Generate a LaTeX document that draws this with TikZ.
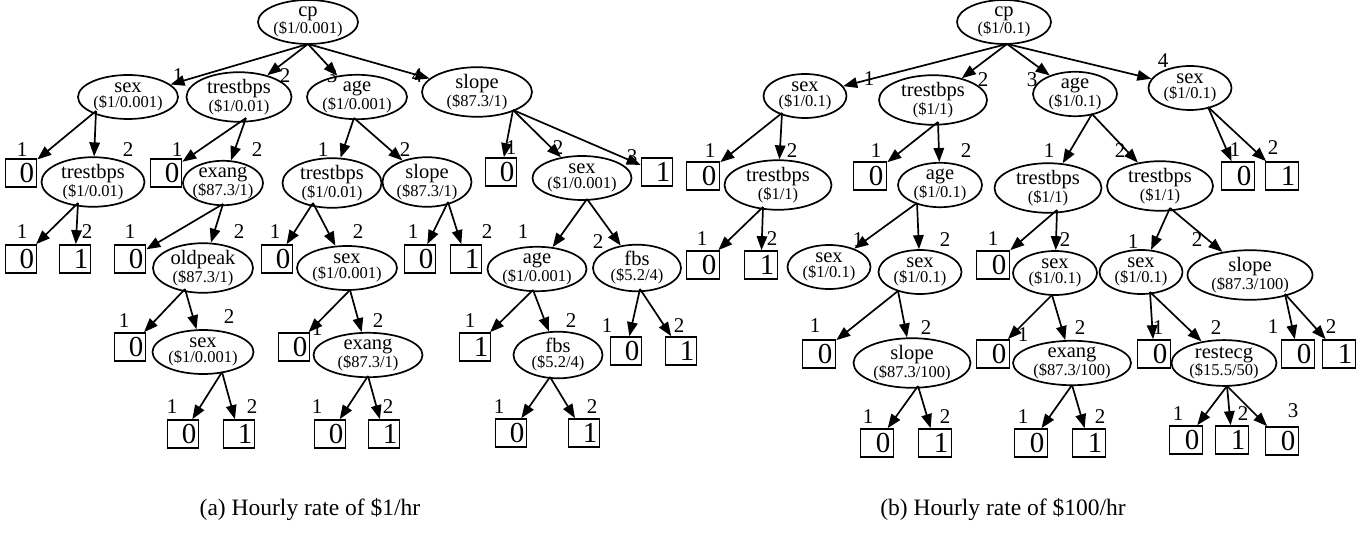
\documentclass[tikz,border=0pt]{standalone}
\usepackage{fontspec}
\setmainfont{Liberation Serif}
\usetikzlibrary{shapes.geometric,arrows.meta}
\newcommand\nmf{\fontsize{20.5}{15}\selectfont}
\newcommand\nsf{\fontsize{16.5}{15}\selectfont}
\newcommand\nt[2]{{\nmf #1}\\{\nsf #2}}
\newcommand\lf[1]{\hspace*{12pt}#1}
\newcommand\E[3]{\draw[conn] ([shift={(#2)}]#1.center) -- (#3);}
\tikzset{
 el/.style={draw, ellipse, line width=1.7pt, inner ysep=0pt, inner xsep=-5pt, minimum height=44pt, align=center, font=\nsf},
 leafbox/.style={draw, rectangle, line width=1.7pt, minimum width=31pt, minimum height=28pt, inner sep=0pt, font=\fontsize{29}{29}\selectfont},
 rleaf/.style={leafbox, minimum width=33pt},
 lbl/.style={font=\fontsize{21}{21}\selectfont, inner sep=0pt},
 captext/.style={font=\fontsize{23.5}{24}\selectfont, inner sep=0pt},
 conn/.style={line width=1.7pt, -{Triangle[length=14pt,width=10.5pt]}},
}
\begin{document}
\begin{tikzpicture}[x=1pt,y=-1pt]
\useasboundingbox (0,0) rectangle (1364,537);
% ---------------- left tree ----------------
\node[el, minimum width=100pt] (Lcp) at (308,22) {\nt{cp}{(\$1/0.001)}};
\node[el, minimum width=100pt] (Ls) at (128,97) {\nt{sex}{(\$1/0.001)}};
\node[el, minimum width=105pt] (Lt) at (239,97) {\nt{trestbps}{(\$1/0.01)}};
\node[el, minimum width=100pt] (La) at (357,97) {\nt{age}{(\$1/0.001)}};
\node[el, minimum width=110pt] (Lsl) at (477,92) {\nt{slope}{(\$87.3/1)}};
\node[leafbox] (L1) at (21,173) {\lf0};
\node[el, minimum width=103pt] (Lt2) at (93,182) {\nt{trestbps}{(\$1/0.01)}};
\node[leafbox] (L2) at (166,173) {\lf0};
\node[el, minimum width=80pt] (Lex) at (223,183) {\nt{exang}{(\$87.3/1)}};
\node[el, minimum width=99pt] (Lt3) at (332,183) {\nt{trestbps}{(\$1/0.01)}};
\node[el, minimum width=89pt] (Lsl2) at (427,182) {\nt{slope}{(\$87.3/1)}};
\node[leafbox] (L3) at (501,172) {\lf0};
\node[el, minimum width=99pt] (Ls2) at (582,178) {\nt{sex}{(\$1/0.001)}};
\node[leafbox] (L4) at (657,172) {\lf1};
\node[leafbox] (L5) at (21,259) {\lf0};
\node[leafbox] (L6) at (75,259) {\lf1};
\node[leafbox] (L7) at (130,259) {\lf0};
\node[el, minimum width=100pt] (Lop) at (203,268) {\nt{oldpeak}{(\$87.3/1)}};
\node[leafbox] (L8) at (277,259) {\lf0};
\node[el, minimum width=100pt] (Ls3) at (347,268) {\nt{sex}{(\$1/0.001)}};
\node[leafbox] (L9) at (420,259) {\lf0};
\node[leafbox] (L10) at (466,259) {\lf1};
\node[el, minimum width=99pt] (La2) at (537,269) {\nt{age}{(\$1/0.001)}};
\node[el, minimum width=88pt] (Lfb) at (637,268) {\nt{fbs}{(\$5.2/4)}};
\node[leafbox] (L11) at (130,347) {\lf0};
\node[el, minimum width=101pt] (Ls4) at (203,352) {\nt{sex}{(\$1/0.001)}};
\node[leafbox] (L12) at (294,347) {\lf0};
\node[el, minimum width=109pt] (Lex2) at (368,355) {\nt{exang}{(\$87.3/1)}};
\node[leafbox] (L13) at (475,347) {\lf1};
\node[el, minimum width=89pt] (Lfb2) at (558,355) {\nt{fbs}{(\$5.2/4)}};
\node[leafbox] (L14) at (626,351) {\lf0};
\node[leafbox] (L15) at (681,351) {\lf1};
\node[leafbox] (L16) at (183,434) {\lf0};
\node[leafbox] (L17) at (239,434) {\lf1};
\node[leafbox] (L18) at (330,434) {\lf0};
\node[leafbox] (L19) at (384,434) {\lf1};
\node[leafbox] (L20) at (511,433) {\lf0};
\node[leafbox] (L21) at (584,433) {\lf1};
% edges left
\E{Lcp}{0,22}{Ls} \E{Lcp}{0,22}{Lt} \E{Lcp}{0,22}{La} \E{Lcp}{0,22}{Lsl}
\E{Ls}{-32,14}{L1} \E{Ls}{-32,14}{Lt2}
\E{Lt}{7,21}{L2} \E{Lt}{7,21}{Lex}
\E{La}{-3,21}{Lt3} \E{La}{-3,21}{Lsl2}
\E{Lsl}{36,18}{L3} \E{Lsl}{36,18}{Ls2} \E{Lsl}{36,18}{L4}
\E{Lt2}{-15,21}{L5} \E{Lt2}{-15,21}{L6}
\E{Lex}{0,21}{L7} \E{Lex}{0,21}{Lop}
\E{Lt3}{-19,20}{L8} \E{Lt3}{-19,20}{Ls3}
\E{Lsl2}{21,20}{L9} \E{Lsl2}{21,20}{L10}
\E{Ls2}{5,21}{La2} \E{Ls2}{5,21}{Lfb}
\E{Lop}{-18,21}{L11} \E{Lop}{-18,21}{Ls4}
\E{Ls3}{3,22}{L12} \E{Ls3}{3,22}{Lex2}
\E{La2}{-4,21}{L13} \E{La2}{-4,21}{Lfb2}
\E{Lfb}{3,21}{L14} \E{Lfb}{3,21}{L15}
\E{Ls4}{19,20}{L16} \E{Ls4}{19,20}{L17}
\E{Lex2}{0,21}{L18} \E{Lex2}{0,21}{L19}
\E{Lfb2}{-8,22}{L20} \E{Lfb2}{-8,22}{L21}
% labels left
\node[lbl] (la1) at (178,76) {1}; \node[lbl] (la2) at (285,76) {2};
\node[lbl] (la3) at (332,76) {3}; \node[lbl] (la4) at (417,76) {4};
\node[lbl] (lb1) at (22,150) {1}; \node[lbl] (lb2) at (128,150) {2};
\node[lbl] (lc1) at (177,150) {1}; \node[lbl] (lc2) at (257,150) {2};
\node[lbl] (ld1) at (323,150) {1}; \node[lbl] (ld2) at (405,150) {2};
\node[lbl] (le1) at (511,148) {1}; \node[lbl] (le2) at (558,148) {2}; \node[lbl] (le3) at (632,157) {3};
\node[lbl] (lf1) at (22,232) {1}; \node[lbl] (lf2) at (87,232) {2};
\node[lbl] (lg1) at (130,232) {1}; \node[lbl] (lg2) at (239,232) {2};
\node[lbl] (lh1) at (275,232) {1}; \node[lbl] (lh2) at (358,232) {2};
\node[lbl] (li1) at (413,232) {1}; \node[lbl] (li2) at (487,232) {2};
\node[lbl] (lj1) at (523,232) {1}; \node[lbl] (lj2) at (598,242) {2};
\node[lbl] (lk1) at (124,321) {1}; \node[lbl] (lk2) at (229,317) {2};
\node[lbl] (ll1) at (317,329) {1}; \node[lbl] (ll2) at (378,321) {2};
\node[lbl] (lm1) at (470,321) {1}; \node[lbl] (lm2) at (571,321) {2};
\node[lbl] (ln1) at (607,326) {1}; \node[lbl] (ln2) at (679,326) {2};
\node[lbl] (lo1) at (172,407) {1}; \node[lbl] (lo2) at (252,407) {2};
\node[lbl] (lp1) at (317,407) {1}; \node[lbl] (lp2) at (388,407) {2};
\node[lbl] (lq1) at (499,407) {1}; \node[lbl] (lq2) at (592,407) {2};
% ---------------- right tree ----------------
\node[el, minimum width=94pt] (Rcp) at (1004,22) {\nt{cp}{(\$1/0.1)}};
\node[el, minimum width=83pt] (Rs) at (805,96) {\nt{sex}{(\$1/0.1)}};
\node[el, minimum width=108pt] (Rt) at (933,100) {\nt{trestbps}{(\$1/1)}};
\node[el, minimum width=84pt] (Ra) at (1075,94) {\nt{age}{(\$1/0.1)}};
\node[el, minimum width=83pt] (Rs4) at (1190,88) {\nt{sex}{(\$1/0.1)}};
\node[rleaf] (R1) at (703,176) {\lf0};
\node[el, minimum width=107pt] (Rt2) at (778,185) {\nt{trestbps}{(\$1/1)}};
\node[rleaf] (R2) at (870,176) {\lf0};
\node[el, minimum width=84pt] (Ra2) at (940,185) {\nt{age}{(\$1/0.1)}};
\node[el, minimum width=107pt] (Rt3) at (1048,188) {\nt{trestbps}{(\$1/1)}};
\node[el, minimum width=106pt] (Rt4) at (1160,186) {\nt{trestbps}{(\$1/1)}};
\node[rleaf] (R3) at (1238,176) {\lf0};
\node[rleaf] (R4) at (1282,176) {\lf1};
\node[rleaf] (R5) at (703,265) {\lf0};
\node[rleaf] (R6) at (761,265) {\lf1};
\node[el, minimum width=83pt] (RsA) at (829,267) {\nt{sex}{(\$1/0.1)}};
\node[el, minimum width=83pt] (Rs5) at (920,272) {\nt{sex}{(\$1/0.1)}};
\node[rleaf] (R7) at (993,265) {\lf0};
\node[el, minimum width=84pt] (Rs6) at (1055,273) {\nt{sex}{(\$1/0.1)}};
\node[el, minimum width=83pt] (Rs7) at (1141,272) {\nt{sex}{(\$1/0.1)}};
\node[el, minimum width=125pt] (Rsl) at (1250,275) {\nt{slope}{(\$87.3/100)}};
\node[rleaf] (R8) at (819,354) {\lf0};
\node[el, minimum width=117pt] (Rsl2) at (912,363) {\nt{slope}{(\$87.3/100)}};
\node[rleaf] (R9) at (993,354) {\lf0};
\node[el, minimum width=118pt] (Rex) at (1072,363) {\nt{exang}{(\$87.3/100)}};
\node[rleaf] (R10) at (1154,354) {\lf0};
\node[el, minimum width=105pt] (Rre) at (1224,363) {\nt{restecg}{(\$15.5/50)}};
\node[rleaf] (R11) at (1298,354) {\lf0};
\node[rleaf] (R12) at (1339,354) {\lf1};
\node[rleaf] (R13) at (877,443) {\lf0};
\node[rleaf] (R14) at (935,443) {\lf1};
\node[rleaf] (R15) at (1031,443) {\lf0};
\node[rleaf] (R16) at (1089,443) {\lf1};
\node[rleaf] (R17) at (1186,440) {\lf0};
\node[rleaf] (R18) at (1232,440) {\lf1};
\node[rleaf] (R19) at (1282,441) {\lf0};
% edges right
\E{Rcp}{3,22}{Rs} \E{Rcp}{3,22}{Rt} \E{Rcp}{3,22}{Ra} \E{Rcp}{3,22}{Rs4}
\E{Rs}{-23,17}{R1} \E{Rs}{-23,17}{Rt2}
\E{Rt}{5,22}{R2} \E{Rt}{5,22}{Ra2}
\E{Ra}{17,20}{Rt3} \E{Ra}{17,20}{Rt4}
\E{Rs4}{18,19}{R3} \E{Rs4}{18,19}{R4}
\E{Rt2}{-15,22}{R5} \E{Rt2}{-15,22}{R6}
\E{Ra2}{-23,18}{RsA} \E{Ra2}{-23,18}{Rs5}
\E{Rt3}{9,22}{R7} \E{Rt3}{9,22}{Rs6}
\E{Rt4}{10,22}{Rs7} \E{Rt4}{10,22}{Rsl}
\E{Rs5}{-22,19}{R8} \E{Rs5}{-22,19}{Rsl2}
\E{Rs6}{-3,22}{R9} \E{Rs6}{-3,22}{Rex}
\E{Rs7}{9,20}{R10} \E{Rs7}{9,20}{Rre}
\E{Rsl}{35,19}{R11} \E{Rsl}{35,19}{R12}
\E{Rsl2}{6,23}{R13} \E{Rsl2}{6,23}{R14}
\E{Rex}{0,22}{R15} \E{Rex}{0,22}{R16}
\E{Rre}{3,23}{R17} \E{Rre}{3,23}{R18} \E{Rre}{3,23}{R19}
% labels right
\node[lbl] (ra1) at (869,79) {1}; \node[lbl] (ra2) at (983,80) {2};
\node[lbl] (ra3) at (1032,80) {3}; \node[lbl] (ra4) at (1163,61) {4};
\node[lbl] (rb1) at (710,151) {1}; \node[lbl] (rb2) at (792,151) {2};
\node[lbl] (rc1) at (876,151) {1}; \node[lbl] (rc2) at (966,151) {2};
\node[lbl] (rd1) at (1049,151) {1}; \node[lbl] (rd2) at (1120,151) {2};
\node[lbl] (re1) at (1235,150) {1}; \node[lbl] (re2) at (1273,148) {2};
\node[lbl] (rf1) at (702,239) {1}; \node[lbl] (rf2) at (772,239) {2};
\node[lbl] (rg1) at (858,240) {1}; \node[lbl] (rg2) at (945,240) {2};
\node[lbl] (rh1) at (993,239) {1}; \node[lbl] (rh2) at (1065,240) {2};
\node[lbl] (ri1) at (1133,242) {1}; \node[lbl] (ri2) at (1197,240) {2};
\node[lbl] (rj1) at (815,326) {1}; \node[lbl] (rj2) at (926,328) {2};
\node[lbl] (rk1) at (1023,335) {1}; \node[lbl] (rk2) at (1080,328) {2};
\node[lbl] (rl1) at (1158,328) {1}; \node[lbl] (rl2) at (1216,328) {2};
\node[lbl] (rm1) at (1273,327) {1}; \node[lbl] (rm2) at (1331,327) {2};
\node[lbl] (rn1) at (868,417) {1}; \node[lbl] (rn2) at (945,417) {2};
\node[lbl] (ro1) at (1023,417) {1}; \node[lbl] (ro2) at (1100,417) {2};
\node[lbl] (rp1) at (1178,414) {1}; \node[lbl] (rp2) at (1243,414) {2}; \node[lbl] (rp3) at (1293,411) {3};
% captions
\node[captext] (capa) at (310,510) {(a) Hourly rate of \$1/hr};
\node[captext] (capb) at (1003,510) {(b) Hourly rate of \$100/hr};
\end{tikzpicture}
\end{document}
